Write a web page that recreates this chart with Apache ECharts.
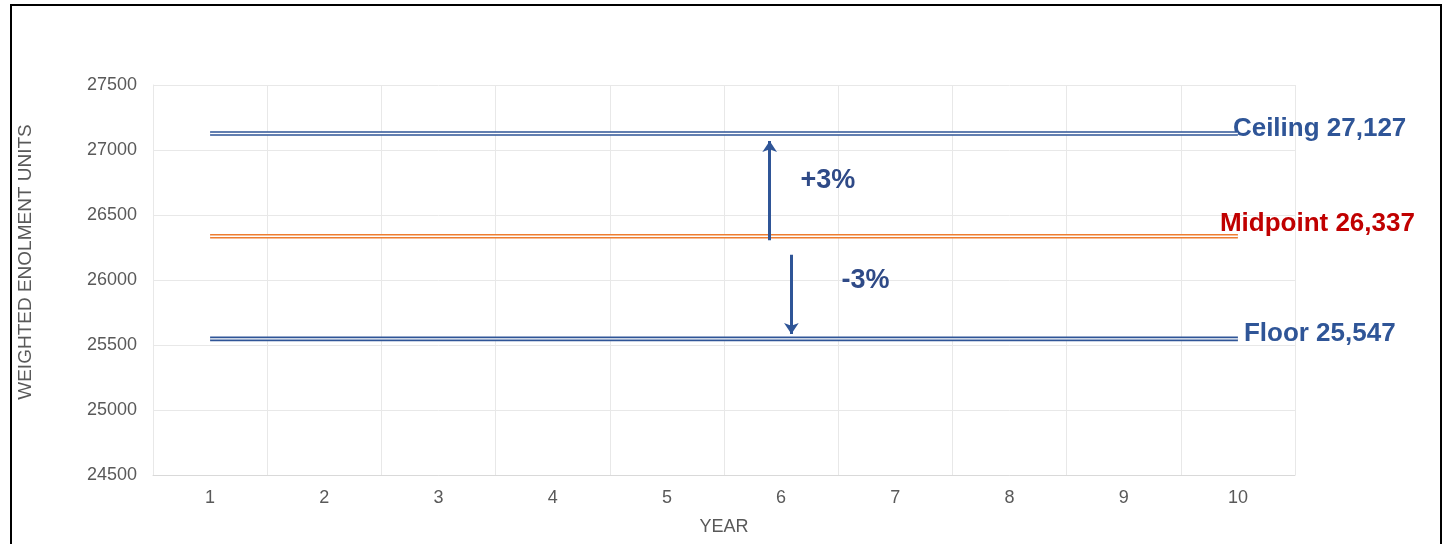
<!DOCTYPE html>
<html>
<head>
<meta charset="utf-8">
<script src="https://cdn.jsdelivr.net/npm/echarts@6/dist/echarts.min.js"></script>
<style>
  html, body { margin: 0; padding: 0; background: #fff; }
  #chart { width: 1447px; height: 544px; }
</style>
</head>
<body>
<div id="chart"></div>
<script>
// chart data
const years = ['1', '2', '3', '4', '5', '6', '7', '8', '9', '10'];
const ceiling = [27127, 27127, 27127, 27127, 27127, 27127, 27127, 27127, 27127, 27127];
const midpoint = [26337, 26337, 26337, 26337, 26337, 26337, 26337, 26337, 26337, 26337];
const floor = [25547, 25547, 25547, 25547, 25547, 25547, 25547, 25547, 25547, 25547];
// arrows between midpoint and bounds: [x, yFrom, yTo] on a 0.5..10.5 scale
const arrowUp = [5.9, 26305, 27070];
const arrowDown = [6.09, 26195, 25585];
const arrowLabels = [
  { text: '+3%', x: 6.41, y: 26762 },
  { text: '-3%', x: 6.74, y: 25992 }
];

const FONT = 'Arial, "Liberation Sans", sans-serif';
const BLUE = '#2F5597';
const ORANGE = '#ED7D31';
const GREY = '#595959';

// thick coloured line + thin white line on top = double line look
const doubleLine = (name, data, color, label) => ([
  {
    name: name,
    type: 'line',
    data: data,
    symbol: 'none',
    silent: true,
    lineStyle: { color: color, width: 4.6 },
    endLabel: {
      show: true,
      formatter: label.text,
      color: label.color,
      fontFamily: FONT,
      fontWeight: 'bold',
      fontSize: 26,
      offset: label.offset
    },
    z: 3
  },
  {
    name: name + '-gap',
    type: 'line',
    data: data,
    symbol: 'none',
    silent: true,
    lineStyle: { color: '#fff', width: 1.4 },
    z: 4
  }
]);

const chart = echarts.init(document.getElementById('chart'));

chart.setOption({
  animation: false,
  backgroundColor: '#fff',
  grid: { left: 153, right: 152, top: 85, bottom: 69 },
  graphic: [{
    type: 'rect',
    shape: { x: 11, y: 5, width: 1430, height: 600 },
    style: { fill: 'none', stroke: '#000', lineWidth: 2 },
    silent: true
  }],
  xAxis: [
    {
      type: 'category',
      data: years,
      boundaryGap: true,
      name: 'YEAR',
      nameLocation: 'middle',
      nameGap: 43,
      nameTextStyle: { color: GREY, fontSize: 18, fontFamily: FONT },
      axisLine: { lineStyle: { color: '#D9D9D9', width: 1 } },
      axisTick: { show: false },
      axisLabel: { color: GREY, fontSize: 18, fontFamily: FONT, margin: 14 },
      splitLine: { show: true, lineStyle: { color: '#E8E8E8', width: 1 } }
    },
    {
      type: 'value',
      min: 0.5,
      max: 10.5,
      show: false
    }
  ],
  yAxis: {
    type: 'value',
    min: 24500,
    max: 27500,
    interval: 500,
    name: 'WEIGHTED ENOLMENT UNITS',
    nameLocation: 'middle',
    nameGap: 118,
    nameTextStyle: { color: GREY, fontSize: 19, fontFamily: FONT, padding: [0, 0, 0, 36] },
    axisLine: { show: true, lineStyle: { color: '#E8E8E8', width: 1 } },
    axisTick: { show: false },
    axisLabel: { color: GREY, fontSize: 18, fontFamily: FONT, margin: 16, formatter: (v) => String(v) },
    splitLine: { show: true, lineStyle: { color: '#E8E8E8', width: 1 } }
  },
  series: [
    ...doubleLine('Ceiling', ceiling, BLUE, { text: 'Ceiling 27,127', color: BLUE, offset: [-13, -5] }),
    ...doubleLine('Midpoint', midpoint, ORANGE, { text: 'Midpoint 26,337', color: '#C00000', offset: [-26, -12] }),
    ...doubleLine('Floor', floor, BLUE, { text: 'Floor 25,547', color: BLUE, offset: [-2, -5] }),
    {
      name: 'arrows',
      type: 'lines',
      coordinateSystem: 'cartesian2d',
      xAxisIndex: 1,
      silent: true,
      symbol: ['none', 'arrow'],
      symbolSize: 11,
      lineStyle: { color: BLUE, width: 3, opacity: 1 },
      data: [
        { coords: [[arrowUp[0], arrowUp[1]], [arrowUp[0], arrowUp[2]]] },
        { coords: [[arrowDown[0], arrowDown[1]], [arrowDown[0], arrowDown[2]]] }
      ],
      z: 5
    },
    {
      name: 'arrowLabels',
      type: 'scatter',
      xAxisIndex: 1,
      silent: true,
      symbolSize: 1,
      itemStyle: { color: 'rgba(0,0,0,0)', opacity: 1 },
      label: {
        show: true,
        position: 'inside',
        formatter: (p) => p.data.text,
        color: '#2F4A87',
        fontFamily: FONT,
        fontWeight: 'bold',
        fontSize: 27
      },
      data: arrowLabels.map(a => ({ value: [a.x, a.y], text: a.text })),
      z: 6
    }
  ]
});
</script>
</body>
</html>
